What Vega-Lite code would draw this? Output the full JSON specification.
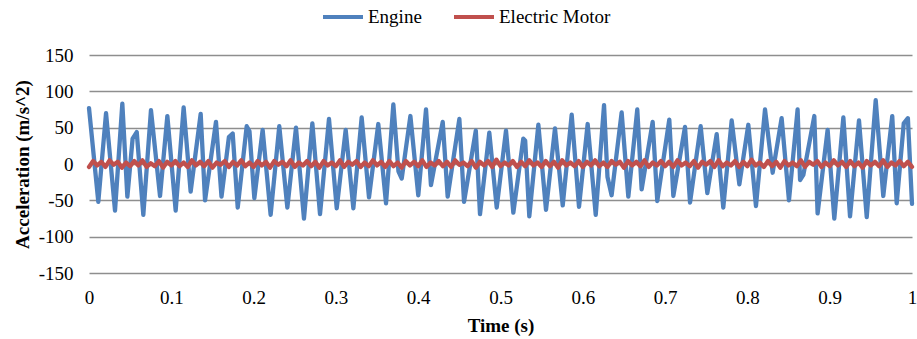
{
  "$schema": "https://vega.github.io/schema/vega-lite/v6.json",
  "width": 823,
  "height": 218,
  "autosize": {"type": "none"},
  "padding": {"left": 89, "top": 55, "right": 5, "bottom": 66},
  "background": "white",
  "config": {
    "view": {"stroke": null},
    "font": "Liberation Serif",
    "axis": {"labelFont": "Liberation Serif", "titleFont": "Liberation Serif", "labelColor": "black", "titleColor": "black"},
    "legend": {"labelFont": "Liberation Serif"}
  },
  "datasets": {
    "engine": [
      {"t": 0.000, "v": 77}, {"t": 0.0113, "v": -52}, {"t": 0.0207, "v": 70}, {"t": 0.0316, "v": -64},
      {"t": 0.0405, "v": 83}, {"t": 0.0466, "v": -45}, {"t": 0.053, "v": 35}, {"t": 0.058, "v": 44},
      {"t": 0.066, "v": -70}, {"t": 0.0753, "v": 74}, {"t": 0.0863, "v": -44}, {"t": 0.0952, "v": 66},
      {"t": 0.1053, "v": -64}, {"t": 0.115, "v": 78}, {"t": 0.1235, "v": -38}, {"t": 0.1357, "v": 69},
      {"t": 0.141, "v": -50}, {"t": 0.1543, "v": 58}, {"t": 0.161, "v": -45}, {"t": 0.170, "v": 37},
      {"t": 0.1746, "v": 42}, {"t": 0.1807, "v": -60}, {"t": 0.1916, "v": 52}, {"t": 0.195, "v": 45},
      {"t": 0.2009, "v": -47}, {"t": 0.211, "v": 47}, {"t": 0.2207, "v": -70}, {"t": 0.2312, "v": 52},
      {"t": 0.241, "v": -60}, {"t": 0.2515, "v": 50}, {"t": 0.2612, "v": -75}, {"t": 0.2714, "v": 56},
      {"t": 0.2807, "v": -69}, {"t": 0.2916, "v": 62}, {"t": 0.301, "v": -61}, {"t": 0.3119, "v": 47},
      {"t": 0.3212, "v": -61}, {"t": 0.3313, "v": 64}, {"t": 0.3402, "v": -46}, {"t": 0.3515, "v": 55},
      {"t": 0.3609, "v": -54}, {"t": 0.3698, "v": 82}, {"t": 0.376, "v": -10}, {"t": 0.380, "v": -20},
      {"t": 0.3905, "v": 66}, {"t": 0.4001, "v": -43}, {"t": 0.4095, "v": 75}, {"t": 0.4155, "v": -29},
      {"t": 0.4298, "v": 58}, {"t": 0.4358, "v": -45}, {"t": 0.450, "v": 62}, {"t": 0.4557, "v": -52},
      {"t": 0.470, "v": 46}, {"t": 0.4751, "v": -69}, {"t": 0.4864, "v": 43}, {"t": 0.4954, "v": -60},
      {"t": 0.5067, "v": 46}, {"t": 0.5156, "v": -67}, {"t": 0.5277, "v": 35}, {"t": 0.530, "v": 32},
      {"t": 0.535, "v": -72}, {"t": 0.546, "v": 54}, {"t": 0.5553, "v": -63}, {"t": 0.5662, "v": 49},
      {"t": 0.5756, "v": -57}, {"t": 0.5865, "v": 68}, {"t": 0.5954, "v": -59}, {"t": 0.6059, "v": 55},
      {"t": 0.6157, "v": -70}, {"t": 0.6258, "v": 81}, {"t": 0.630, "v": -18}, {"t": 0.635, "v": -43},
      {"t": 0.6472, "v": 71}, {"t": 0.6553, "v": -45}, {"t": 0.6662, "v": 75}, {"t": 0.6715, "v": -35},
      {"t": 0.6849, "v": 58}, {"t": 0.6905, "v": -51}, {"t": 0.7051, "v": 61}, {"t": 0.710, "v": -44},
      {"t": 0.7242, "v": 51}, {"t": 0.7303, "v": -53}, {"t": 0.7432, "v": 52}, {"t": 0.7513, "v": -40},
      {"t": 0.7627, "v": 41}, {"t": 0.7707, "v": -60}, {"t": 0.7809, "v": 60}, {"t": 0.7902, "v": -28},
      {"t": 0.8011, "v": 54}, {"t": 0.8104, "v": -58}, {"t": 0.8214, "v": 75}, {"t": 0.8307, "v": -12},
      {"t": 0.8416, "v": 63}, {"t": 0.8505, "v": -50}, {"t": 0.861, "v": 75}, {"t": 0.864, "v": -22},
      {"t": 0.868, "v": -15}, {"t": 0.8813, "v": 66}, {"t": 0.8853, "v": -68}, {"t": 0.8975, "v": 47},
      {"t": 0.9056, "v": -75}, {"t": 0.9166, "v": 64}, {"t": 0.9247, "v": -72}, {"t": 0.9356, "v": 60},
      {"t": 0.945, "v": -73}, {"t": 0.9559, "v": 88}, {"t": 0.9651, "v": -44}, {"t": 0.976, "v": 66},
      {"t": 0.9814, "v": -54}, {"t": 0.990, "v": 56}, {"t": 0.995, "v": 63}, {"t": 1.0, "v": -55}
    ],
    "motor": [
      {"t": 0.000, "v": -4}, {"t": 0.005, "v": 4}, {"t": 0.010, "v": -2}, {"t": 0.015, "v": 3}, {"t": 0.020, "v": -4},
      {"t": 0.025, "v": 5}, {"t": 0.030, "v": -1}, {"t": 0.035, "v": 3}, {"t": 0.040, "v": -5}, {"t": 0.045, "v": 2},
      {"t": 0.050, "v": -3}, {"t": 0.055, "v": 4}, {"t": 0.060, "v": -2}, {"t": 0.065, "v": 5}, {"t": 0.070, "v": -4},
      {"t": 0.075, "v": 1}, {"t": 0.080, "v": -3}, {"t": 0.085, "v": 4}, {"t": 0.090, "v": -5}, {"t": 0.095, "v": 3},
      {"t": 0.100, "v": -2}, {"t": 0.105, "v": 4}, {"t": 0.110, "v": -3}, {"t": 0.115, "v": 2}, {"t": 0.120, "v": -4},
      {"t": 0.125, "v": 5}, {"t": 0.130, "v": -2}, {"t": 0.135, "v": 3}, {"t": 0.140, "v": -3}, {"t": 0.145, "v": 4},
      {"t": 0.150, "v": -5}, {"t": 0.155, "v": 2}, {"t": 0.160, "v": -1}, {"t": 0.165, "v": 4}, {"t": 0.170, "v": -4},
      {"t": 0.175, "v": 3}, {"t": 0.180, "v": -2}, {"t": 0.185, "v": 5}, {"t": 0.190, "v": -3}, {"t": 0.195, "v": 2},
      {"t": 0.200, "v": -4}, {"t": 0.205, "v": 4}, {"t": 0.210, "v": -2}, {"t": 0.215, "v": 3}, {"t": 0.220, "v": -5},
      {"t": 0.225, "v": 4}, {"t": 0.230, "v": -1}, {"t": 0.235, "v": 3}, {"t": 0.240, "v": -3}, {"t": 0.245, "v": 5},
      {"t": 0.250, "v": -4}, {"t": 0.255, "v": 2}, {"t": 0.260, "v": -2}, {"t": 0.265, "v": 4}, {"t": 0.270, "v": -3},
      {"t": 0.275, "v": 3}, {"t": 0.280, "v": -5}, {"t": 0.285, "v": 4}, {"t": 0.290, "v": -2}, {"t": 0.295, "v": 2},
      {"t": 0.300, "v": -3}, {"t": 0.305, "v": 5}, {"t": 0.310, "v": -4}, {"t": 0.315, "v": 3}, {"t": 0.320, "v": -1},
      {"t": 0.325, "v": 4}, {"t": 0.330, "v": -4}, {"t": 0.335, "v": 2}, {"t": 0.340, "v": -3}, {"t": 0.345, "v": 5},
      {"t": 0.350, "v": -2}, {"t": 0.355, "v": 3}, {"t": 0.360, "v": -4}, {"t": 0.365, "v": 4}, {"t": 0.370, "v": -3},
      {"t": 0.375, "v": 2}, {"t": 0.380, "v": -5}, {"t": 0.385, "v": 4}, {"t": 0.390, "v": -2}, {"t": 0.395, "v": 3},
      {"t": 0.400, "v": -3}, {"t": 0.405, "v": 5}, {"t": 0.410, "v": -4}, {"t": 0.415, "v": 2}, {"t": 0.420, "v": -2},
      {"t": 0.425, "v": 4}, {"t": 0.430, "v": -3}, {"t": 0.435, "v": 3}, {"t": 0.440, "v": -4}, {"t": 0.445, "v": 5},
      {"t": 0.450, "v": -1}, {"t": 0.455, "v": 2}, {"t": 0.460, "v": -3}, {"t": 0.465, "v": 4}, {"t": 0.470, "v": -5},
      {"t": 0.475, "v": 3}, {"t": 0.480, "v": -2}, {"t": 0.485, "v": 4}, {"t": 0.490, "v": -4}, {"t": 0.495, "v": 6},
      {"t": 0.500, "v": -3}, {"t": 0.505, "v": 2}, {"t": 0.510, "v": -2}, {"t": 0.515, "v": 4}, {"t": 0.520, "v": -4},
      {"t": 0.525, "v": 3}, {"t": 0.530, "v": -3}, {"t": 0.535, "v": 5}, {"t": 0.540, "v": -2}, {"t": 0.545, "v": 2},
      {"t": 0.550, "v": -4}, {"t": 0.555, "v": 4}, {"t": 0.560, "v": -3}, {"t": 0.565, "v": 3}, {"t": 0.570, "v": -5},
      {"t": 0.575, "v": 5}, {"t": 0.580, "v": -2}, {"t": 0.585, "v": 2}, {"t": 0.590, "v": -3}, {"t": 0.595, "v": 4},
      {"t": 0.600, "v": -4}, {"t": 0.605, "v": 3}, {"t": 0.610, "v": -2}, {"t": 0.615, "v": 5}, {"t": 0.620, "v": -3},
      {"t": 0.625, "v": 2}, {"t": 0.630, "v": -4}, {"t": 0.635, "v": 4}, {"t": 0.640, "v": -1}, {"t": 0.645, "v": 3},
      {"t": 0.650, "v": -5}, {"t": 0.655, "v": 4}, {"t": 0.660, "v": -2}, {"t": 0.665, "v": 3}, {"t": 0.670, "v": -3},
      {"t": 0.675, "v": 5}, {"t": 0.680, "v": -4}, {"t": 0.685, "v": 2}, {"t": 0.690, "v": -2}, {"t": 0.695, "v": 4},
      {"t": 0.700, "v": -3}, {"t": 0.705, "v": 3}, {"t": 0.710, "v": -4}, {"t": 0.715, "v": 5}, {"t": 0.720, "v": -2},
      {"t": 0.725, "v": 2}, {"t": 0.730, "v": -3}, {"t": 0.735, "v": 4}, {"t": 0.740, "v": -5}, {"t": 0.745, "v": 3},
      {"t": 0.750, "v": -1}, {"t": 0.755, "v": 4}, {"t": 0.760, "v": -4}, {"t": 0.765, "v": 5}, {"t": 0.770, "v": -3},
      {"t": 0.775, "v": 2}, {"t": 0.780, "v": -2}, {"t": 0.785, "v": 4}, {"t": 0.790, "v": -4}, {"t": 0.795, "v": 3},
      {"t": 0.800, "v": -3}, {"t": 0.805, "v": 6}, {"t": 0.810, "v": -2}, {"t": 0.815, "v": 2}, {"t": 0.820, "v": -4},
      {"t": 0.825, "v": 4}, {"t": 0.830, "v": -3}, {"t": 0.835, "v": 3}, {"t": 0.840, "v": -5}, {"t": 0.845, "v": 4},
      {"t": 0.850, "v": -2}, {"t": 0.855, "v": 2}, {"t": 0.860, "v": -3}, {"t": 0.865, "v": 5}, {"t": 0.870, "v": -4},
      {"t": 0.875, "v": 3}, {"t": 0.880, "v": -1}, {"t": 0.885, "v": 4}, {"t": 0.890, "v": -4}, {"t": 0.895, "v": 2},
      {"t": 0.900, "v": -3}, {"t": 0.905, "v": 5}, {"t": 0.910, "v": -2}, {"t": 0.915, "v": 3}, {"t": 0.920, "v": -4},
      {"t": 0.925, "v": 4}, {"t": 0.930, "v": -3}, {"t": 0.935, "v": 2}, {"t": 0.940, "v": -5}, {"t": 0.945, "v": 4},
      {"t": 0.950, "v": -2}, {"t": 0.955, "v": 3}, {"t": 0.960, "v": -3}, {"t": 0.965, "v": 5}, {"t": 0.970, "v": -4},
      {"t": 0.975, "v": 2}, {"t": 0.980, "v": -2}, {"t": 0.985, "v": 4}, {"t": 0.990, "v": -3}, {"t": 0.995, "v": 3},
      {"t": 1.000, "v": -4}
    ]
  },
  "encoding": {
    "x": {
      "field": "t",
      "type": "quantitative",
      "scale": {"domain": [0, 1], "nice": false, "zero": false},
      "axis": {
        "values": [0, 0.1, 0.2, 0.3, 0.4, 0.5, 0.6, 0.7, 0.8, 0.9, 1],
        "format": ".1~f",
        "grid": false,
        "ticks": false,
        "domain": false,
        "labelFlush": false,
        "labelFontSize": 19,
        "labelPadding": 15,
        "title": "Time (s)",
        "titleFontSize": 19,
        "titleFontWeight": "bold",
        "titlePadding": 9
      }
    },
    "y": {
      "field": "v",
      "type": "quantitative",
      "scale": {"domain": [-150, 150], "nice": false},
      "axis": {
        "values": [-150, -100, -50, 0, 50, 100, 150],
        "labelExpr": "datum.value < 0 ? '-' + abs(datum.value) : '' + datum.value",
        "grid": true,
        "gridColor": "#8e8e8e",
        "gridWidth": 1.3,
        "ticks": false,
        "domain": false,
        "labelFontSize": 19,
        "labelPadding": 16,
        "title": "Acceleration (m/s^2)",
        "titleFontSize": 19,
        "titleFontWeight": "bold",
        "titlePadding": 6
      }
    }
  },
  "layer": [
    {
      "data": {"name": "engine"},
      "mark": {"type": "line", "strokeWidth": 4.3, "strokeJoin": "round", "strokeCap": "round"},
      "encoding": {
        "color": {
          "datum": "Engine",
          "type": "nominal",
          "scale": {"domain": ["Engine", "Electric Motor"], "range": ["#4F81BD", "#C0504D"]},
          "legend": {
            "title": null,
            "orient": "none",
            "direction": "horizontal",
            "legendX": 232,
            "legendY": -60,
            "symbolType": "stroke",
            "symbolSize": 1600,
            "symbolStrokeWidth": 4,
            "labelFontSize": 19,
            "labelColor": "black",
            "labelOffset": 3,
            "columnPadding": 24
          }
        }
      }
    },
    {
      "data": {"name": "motor"},
      "mark": {"type": "line", "strokeWidth": 4.3, "strokeJoin": "round", "strokeCap": "round"},
      "encoding": {
        "color": {"datum": "Electric Motor", "type": "nominal"}
      }
    }
  ]
}
